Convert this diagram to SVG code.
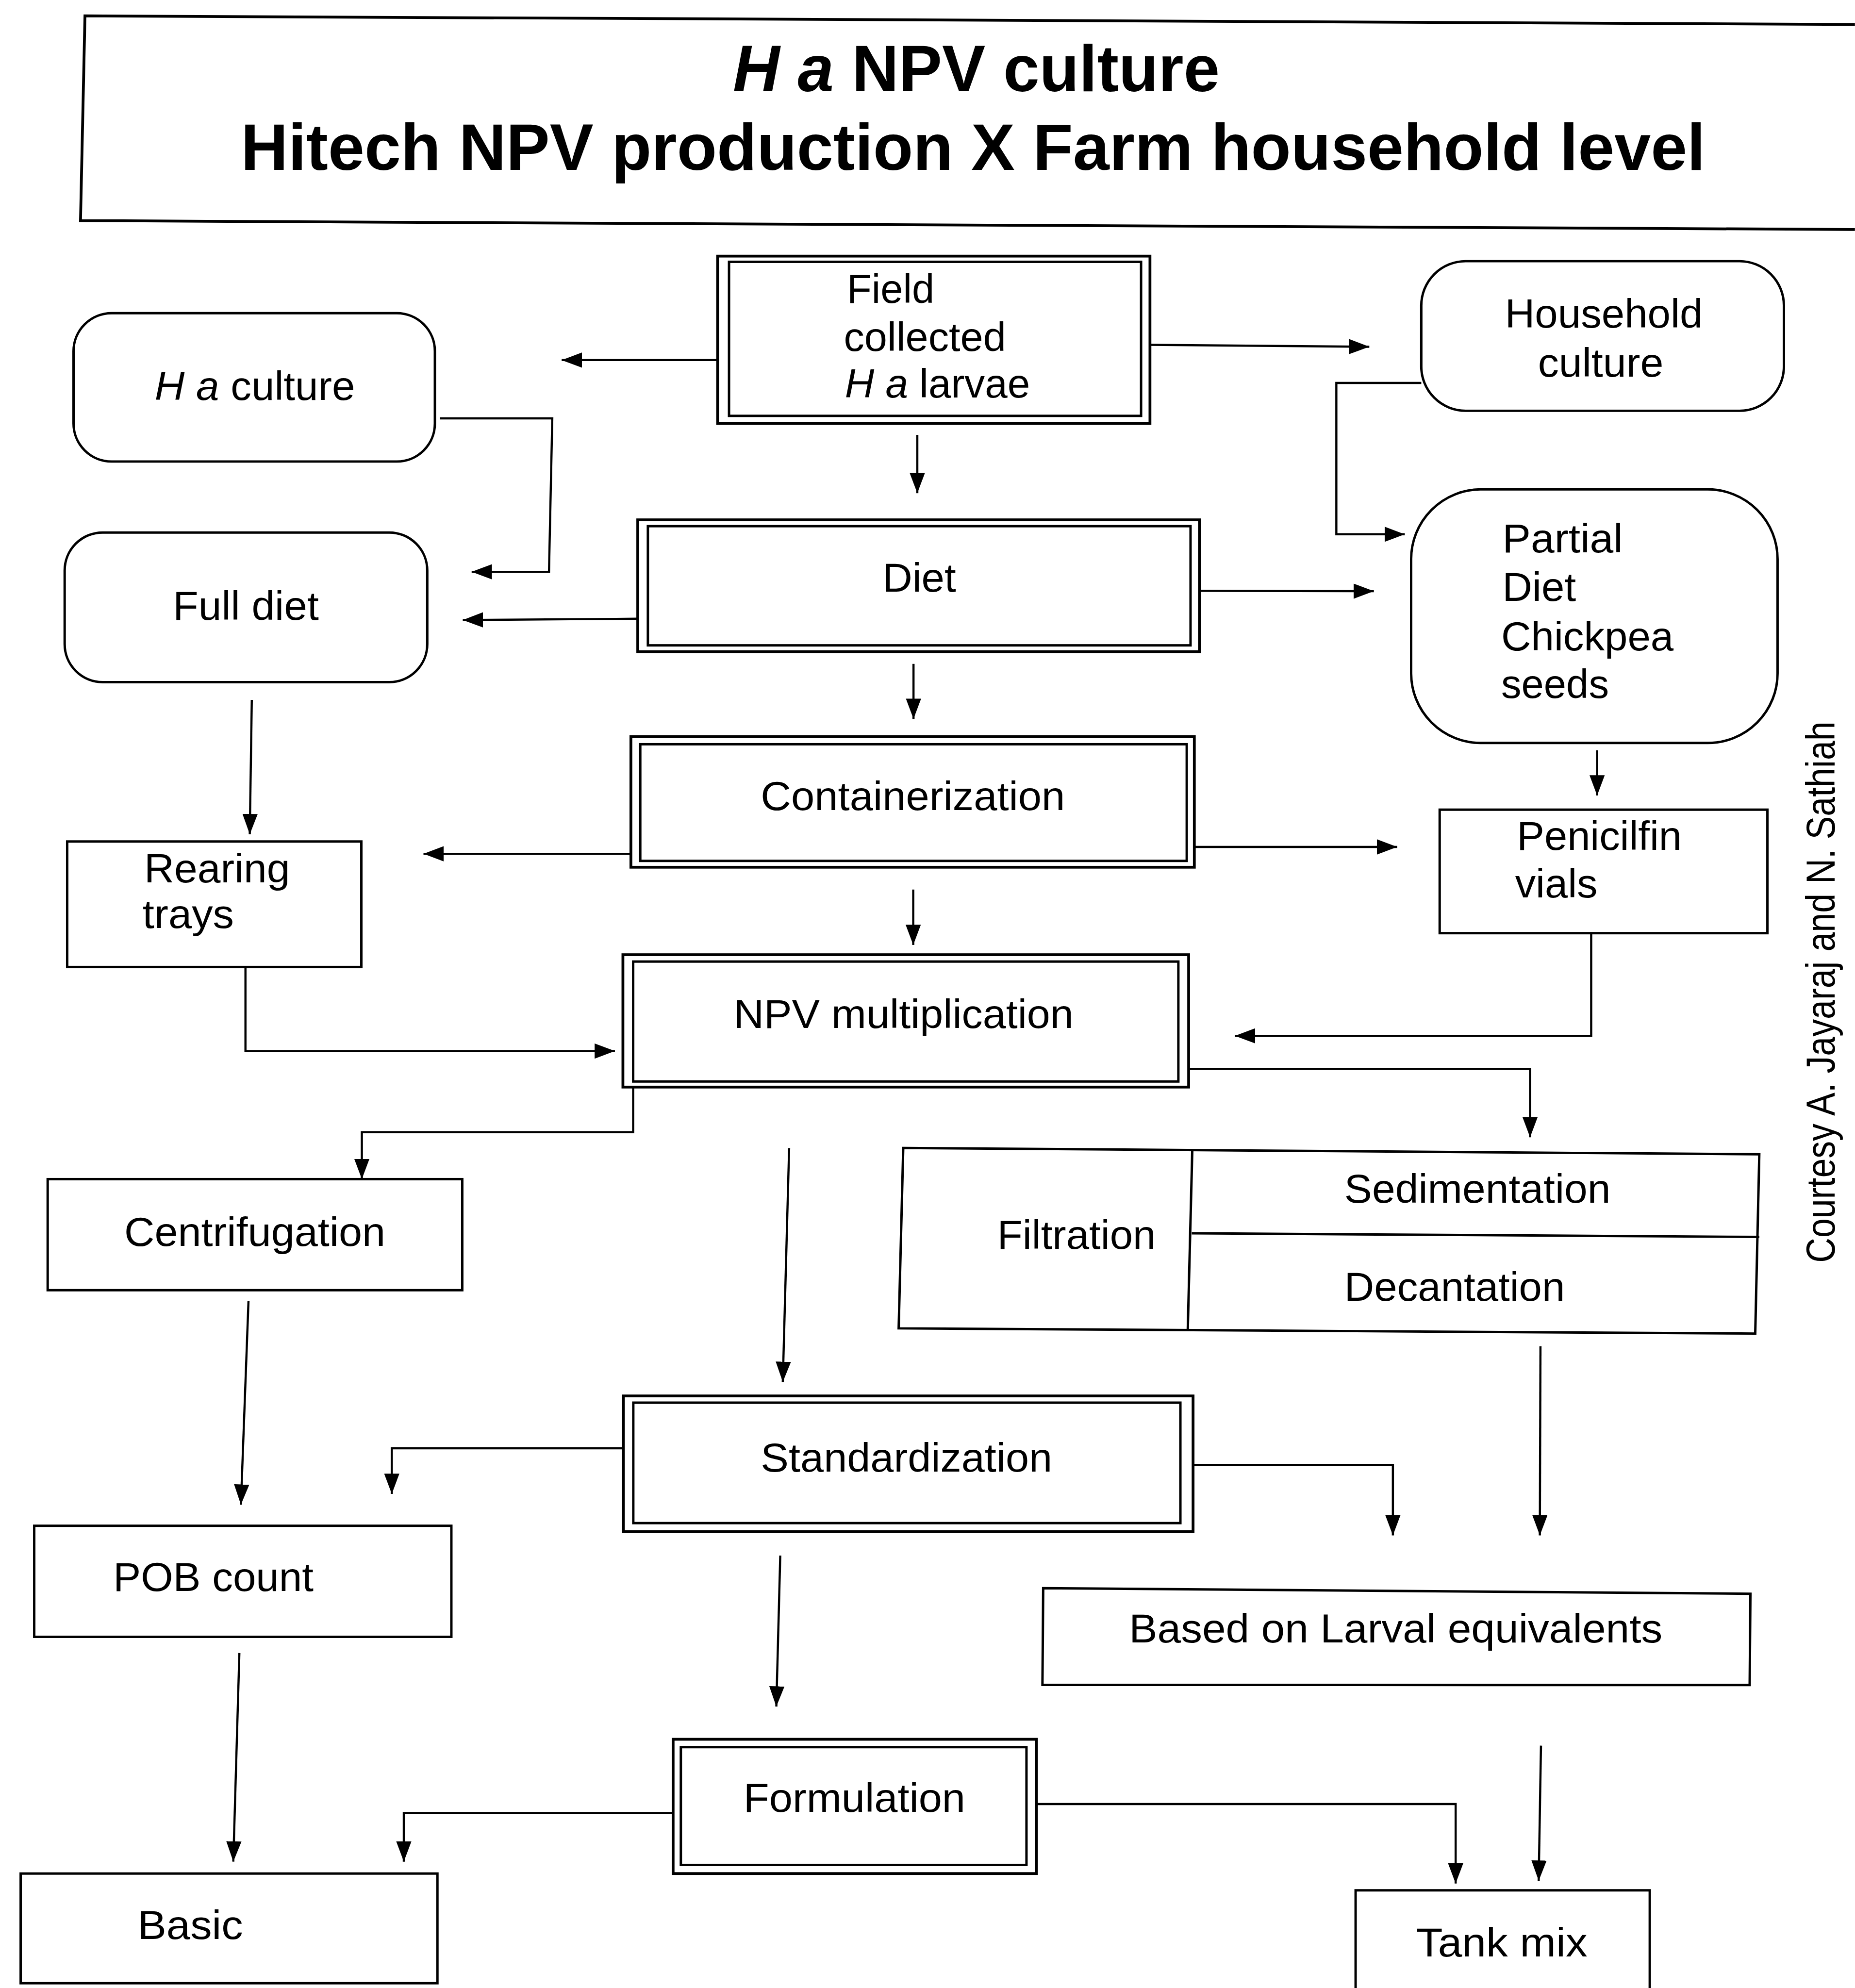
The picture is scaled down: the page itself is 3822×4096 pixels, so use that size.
<svg xmlns="http://www.w3.org/2000/svg" width="3822" height="4096" viewBox="0 0 3822 4096">
<style>
.t{font-family:"Liberation Sans",Arial,Helvetica,sans-serif;font-size:32px;fill:#000}
.tt{font-family:"Liberation Sans",Arial,Helvetica,sans-serif;font-size:52px;font-weight:bold;fill:#000}
.b{fill:#fff;stroke:#000;stroke-width:1.9}
.bo{fill:#fff;stroke:#000;stroke-width:2.2}
.bi{fill:none;stroke:#000;stroke-width:1.9}
.c{fill:none;stroke:#000;stroke-width:1.7}
</style>
<defs>
<marker id="ah" viewBox="0 0 16 12" refX="16" refY="6" markerWidth="16" markerHeight="12" markerUnits="userSpaceOnUse" orient="auto">
<path d="M0,0 L16,6 L0,12 Z" fill="#000"/>
</marker>
</defs>
<rect x="0" y="0" width="3822" height="4096" fill="#fff"/>
<g transform="scale(2.6123)">
<g id="title">
<path d="M1463,19.3 L67,12.5 L63.5,174 L1463,181" fill="none" stroke="#000" stroke-width="2.2"/>
<text class="tt" x="578" y="72" textLength="384" lengthAdjust="spacingAndGlyphs"><tspan font-style="italic">H a</tspan> NPV culture</text>
<text class="tt" x="190" y="134" textLength="1155" lengthAdjust="spacingAndGlyphs">Hitech NPV production X Farm household level</text>
</g>
<g id="connectors">
<path class="c" d="M566,284 H443" marker-end="url(#ah)"/>
<path class="c" d="M907,272 L1080,273.5" marker-end="url(#ah)"/>
<path class="c" d="M723.5,343 V389" marker-end="url(#ah)"/>
<path class="c" d="M347,330 H435.6 L433,451 H372" marker-end="url(#ah)"/>
<path class="c" d="M503,488 L365,489" marker-end="url(#ah)"/>
<path class="c" d="M1121,302 H1054 V421.4 H1108" marker-end="url(#ah)"/>
<path class="c" d="M946,466 L1083.6,466.3" marker-end="url(#ah)"/>
<path class="c" d="M720.5,523.6 V567" marker-end="url(#ah)"/>
<path class="c" d="M198.6,552 L197,658" marker-end="url(#ah)"/>
<path class="c" d="M1259.7,591.8 V627.4" marker-end="url(#ah)"/>
<path class="c" d="M497.6,673.4 H334" marker-end="url(#ah)"/>
<path class="c" d="M942,668 H1102" marker-end="url(#ah)"/>
<path class="c" d="M720.3,701.6 V745.3" marker-end="url(#ah)"/>
<path class="c" d="M193.6,762.7 V829 H485" marker-end="url(#ah)"/>
<path class="c" d="M1255,736 V817 H974" marker-end="url(#ah)"/>
<path class="c" d="M937,843 H1206.8 V897" marker-end="url(#ah)"/>
<path class="c" d="M499.4,857 V893 H285.4 V930" marker-end="url(#ah)"/>
<path class="c" d="M622.4,905.5 L617.4,1090" marker-end="url(#ah)"/>
<path class="c" d="M196,1026 L190,1186.8" marker-end="url(#ah)"/>
<path class="c" d="M491.7,1142.3 H309 V1178.3" marker-end="url(#ah)"/>
<path class="c" d="M941,1155.4 H1098.6 V1211" marker-end="url(#ah)"/>
<path class="c" d="M1215,1061.8 L1214.5,1211" marker-end="url(#ah)"/>
<path class="c" d="M615.4,1226.9 L612.3,1346" marker-end="url(#ah)"/>
<path class="c" d="M188.8,1303.8 L184,1468.3" marker-end="url(#ah)"/>
<path class="c" d="M530.9,1430 H318.5 V1468.3" marker-end="url(#ah)"/>
<path class="c" d="M817.5,1422.9 H1148.1 V1485.6" marker-end="url(#ah)"/>
<path class="c" d="M1215.4,1376.8 L1213.6,1483.4" marker-end="url(#ah)"/>
</g>
<g id="field">
<rect class="bo" x="566" y="202" width="341" height="132"/>
<rect class="bi" x="575" y="206.5" width="325" height="121.5"/>
<text class="t" x="668" y="238.7" textLength="69" lengthAdjust="spacingAndGlyphs">Field</text>
<text class="t" x="665.5" y="276.7" textLength="128" lengthAdjust="spacingAndGlyphs">collected</text>
<text class="t" x="666.4" y="313.7" textLength="146" lengthAdjust="spacingAndGlyphs"><tspan font-style="italic">H a</tspan> larvae</text>
</g>
<g id="ha_culture">
<rect class="b" x="58" y="247" width="285" height="117" rx="30"/>
<text class="t" x="122" y="315.3" textLength="158" lengthAdjust="spacingAndGlyphs"><tspan font-style="italic">H a</tspan> culture</text>
</g>
<g id="household">
<rect class="b" x="1121" y="206" width="286" height="118" rx="35"/>
<text class="t" x="1187" y="258.4" font-size="30" textLength="156" lengthAdjust="spacingAndGlyphs">Household</text>
<text class="t" x="1213" y="297" font-size="30" textLength="99" lengthAdjust="spacingAndGlyphs">culture</text>
</g>
<g id="full_diet">
<rect class="b" x="51" y="420" width="286" height="118" rx="30"/>
<text class="t" x="136.4" y="488.7" textLength="115" lengthAdjust="spacingAndGlyphs">Full diet</text>
</g>
<g id="diet">
<rect class="bo" x="503" y="410" width="443" height="104"/>
<rect class="bi" x="511" y="415" width="428" height="94"/>
<text class="t" x="696" y="466.8" textLength="58" lengthAdjust="spacingAndGlyphs">Diet</text>
</g>
<g id="partial">
<rect class="b" x="1113" y="386" width="289" height="200" rx="55"/>
<text class="t" x="1185" y="435.6" font-size="30" textLength="95" lengthAdjust="spacingAndGlyphs">Partial</text>
<text class="t" x="1185" y="473.8" font-size="30" textLength="58" lengthAdjust="spacingAndGlyphs">Diet</text>
<text class="t" x="1184" y="513" font-size="30" textLength="136" lengthAdjust="spacingAndGlyphs">Chickpea</text>
<text class="t" x="1184" y="550.6" font-size="30" textLength="85" lengthAdjust="spacingAndGlyphs">seeds</text>
</g>
<g id="containerization">
<rect class="bo" x="497.6" y="581" width="444.4" height="103"/>
<rect class="bi" x="505" y="587" width="431" height="92"/>
<text class="t" x="600" y="639" textLength="240" lengthAdjust="spacingAndGlyphs">Containerization</text>
</g>
<g id="rearing">
<rect class="b" x="53" y="663.7" width="232" height="99"/>
<text class="t" x="113.7" y="695.8" textLength="115" lengthAdjust="spacingAndGlyphs">Rearing</text>
<text class="t" x="112.5" y="732" textLength="72" lengthAdjust="spacingAndGlyphs">trays</text>
</g>
<g id="penicillin">
<rect class="b" x="1135.5" y="638.6" width="258.5" height="97.4"/>
<text class="t" x="1196.4" y="670.4" font-size="30" textLength="130" lengthAdjust="spacingAndGlyphs">Penicilfin</text>
<text class="t" x="1195" y="708" font-size="30" textLength="65" lengthAdjust="spacingAndGlyphs">vials</text>
</g>
<g id="npv">
<rect class="bo" x="491.3" y="753" width="446.2" height="104.4"/>
<rect class="bi" x="499.4" y="758.4" width="430" height="94.6"/>
<text class="t" x="578.7" y="810.8" textLength="268" lengthAdjust="spacingAndGlyphs">NPV multiplication</text>
</g>
<g id="centrifugation">
<rect class="b" x="37.6" y="930" width="327" height="87.6"/>
<text class="t" x="98" y="982.7" textLength="206" lengthAdjust="spacingAndGlyphs">Centrifugation</text>
</g>
<g id="filtration">
<path class="b" d="M712.4,905.4 L1387.6,910.4 L1384.4,1051.8 L708.8,1047.7 Z"/>
<path d="M940.4,906.5 L936.8,1049.5 M940,972.7 L1387.6,975.6" fill="none" stroke="#000" stroke-width="1.9"/>
<text class="t" x="786.6" y="985" textLength="125" lengthAdjust="spacingAndGlyphs">Filtration</text>
<text class="t" x="1060.3" y="948.6" textLength="210" lengthAdjust="spacingAndGlyphs">Sedimentation</text>
<text class="t" x="1060.3" y="1026" textLength="174" lengthAdjust="spacingAndGlyphs">Decantation</text>
</g>
<g id="standardization">
<rect class="bo" x="491.7" y="1101" width="449.3" height="107"/>
<rect class="bi" x="499.5" y="1106.3" width="431.5" height="95"/>
<text class="t" x="600" y="1160.5" textLength="230" lengthAdjust="spacingAndGlyphs">Standardization</text>
</g>
<g id="pob">
<rect class="b" x="27" y="1203.4" width="329" height="87.6"/>
<text class="t" x="89.3" y="1255" textLength="158" lengthAdjust="spacingAndGlyphs">POB count</text>
</g>
<g id="based">
<path class="b" d="M822.8,1252.6 L1380.6,1257 L1380,1329 L822.2,1328.9 Z"/>
<text class="t" x="890.5" y="1295.3" font-size="30" textLength="420.7" lengthAdjust="spacingAndGlyphs">Based on Larval equivalents</text>
</g>
<g id="formulation">
<rect class="bo" x="530.9" y="1371.8" width="286.6" height="105.9"/>
<rect class="bi" x="537" y="1378" width="272.6" height="92.9"/>
<text class="t" x="586.4" y="1429.1" textLength="175" lengthAdjust="spacingAndGlyphs">Formulation</text>
</g>
<g id="basic">
<rect class="b" x="16.3" y="1477.7" width="328.7" height="86.5"/>
<text class="t" x="108.6" y="1529.5" textLength="83" lengthAdjust="spacingAndGlyphs">Basic</text>
</g>
<g id="tankmix">
<path class="b" d="M1069.2,1570 V1490.9 H1301.2 V1570"/>
<text class="t" x="1117" y="1543" textLength="135" lengthAdjust="spacingAndGlyphs">Tank mix</text>
</g>
<g id="courtesy">
<text class="t" font-size="28" transform="translate(1447,996) rotate(-90)" textLength="427" lengthAdjust="spacingAndGlyphs">Courtesy A. Jayaraj and N. Sathiah</text>
</g>
</g>
</svg>
